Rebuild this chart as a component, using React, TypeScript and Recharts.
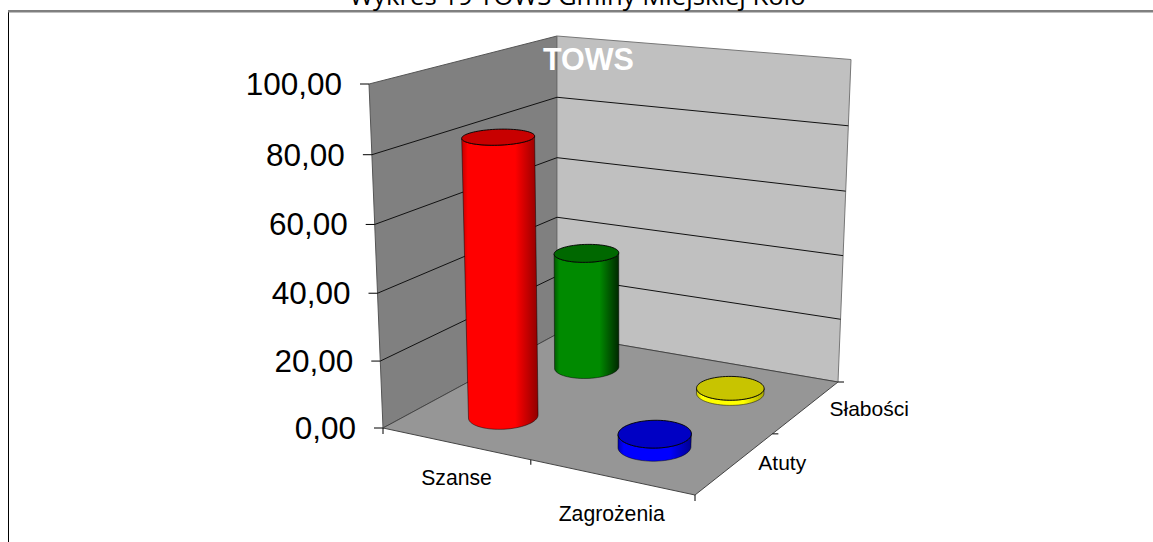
import React from 'react';
import { ComposedChart, Bar, XAxis, YAxis, Customized } from 'recharts';

// ---- data ----
const categories = ['Szanse', 'Zagrożenia'];
const seriesNames = ['Atuty', 'Słabości'];
const atuty = [83, 3.8];
const slabosci = [37, 1.6];
const yTicks = [0, 20, 40, 60, 80, 100];
const atutyColors = ['red', 'blue'];
const slabosciColors = ['green', 'yellow'];
const chartTitle = 'Wykres 19 TOWS Gminy Miejskiej Koło';
const innerTitle = 'TOWS';

const rows = categories.map((name, i) => ({ name, atuty: atuty[i], slabosci: slabosci[i] }));

// ---- layout: projection of the chart box ----
const W = 1153, H = 542;
const PLOT_TOP = 83, PLOT_BOTTOM = 428;
const PLOT_H = PLOT_BOTTOM - PLOT_TOP;
type Pt = [number, number];
const homography = (p00: Pt, p10: Pt, p11: Pt, p01: Pt) => {
  const dx1 = p10[0] - p11[0], dx2 = p01[0] - p11[0], sx = p00[0] - p10[0] + p11[0] - p01[0];
  const dy1 = p10[1] - p11[1], dy2 = p01[1] - p11[1], sy = p00[1] - p10[1] + p11[1] - p01[1];
  const den = dx1 * dy2 - dx2 * dy1;
  const g = (sx * dy2 - dx2 * sy) / den, h = (dx1 * sy - sx * dy1) / den;
  const a = p10[0] - p00[0] + g * p10[0], b = p01[0] - p00[0] + h * p01[0];
  const d = p10[1] - p00[1] + g * p10[1], e = p01[1] - p00[1] + h * p01[1];
  return (u: number, v: number): Pt => {
    const q = g * u + h * v + 1;
    return [(a * u + b * v + p00[0]) / q, (d * u + e * v + p00[1]) / q];
  };
};
const floor = homography([383, 428], [695, 495], [838, 382], [557, 334]);
const ceil = homography([369, 84], [714, 127], [851, 59.5], [557, 36]);
const ease = (w: number) => w / (w + (1 - w) * 1.035);
const project = (u: number, v: number, w: number): Pt => {
  const a = floor(u, v), b = ceil(u, v), f = ease(w);
  return [a[0] + (b[0] - a[0]) * f, a[1] + (b[1] - a[1]) * f];
};
const uPos = [0.255, 0.753];
const vPos = [0.25, 0.75];
const RU = 0.1, RV = 0.108;
const pathOf = (pts: Pt[], close = true) =>
  pts.map((p, i) => `${i ? 'L' : 'M'}${p[0].toFixed(2)},${p[1].toFixed(2)}`).join('') + (close ? 'Z' : '');
const ARIAL = '"Liberation Sans", Arial, sans-serif';

const shades: Record<string, { l: string; m: string; r: string; top: string }> = {
  red: { l: '#c00000', m: '#ff0000', r: '#900000', top: '#c80000' },
  green: { l: '#005800', m: '#008a00', r: '#002800', top: '#006800' },
  blue: { l: '#0000b0', m: '#0000ff', r: '#000090', top: '#0000c4' },
  yellow: { l: '#c8c800', m: '#ffff00', r: '#a8a800', top: '#c8c400' },
};

const makeCylinder = (seriesIdx: number, colors: string[]) => (props: any) => {
  const { index, height } = props;
  const w = Math.abs(height) / PLOT_H;
  const u = uPos[index], v = vPos[seriesIdx];
  const ring = (z: number): Pt[] => {
    const out: Pt[] = [];
    for (let i = 0; i < 72; i++) {
      const t = (i / 72) * Math.PI * 2;
      out.push(project(u + RU * Math.cos(t), v + RV * Math.sin(t), z));
    }
    return out;
  };
  const lower = (r: Pt[]) => {
    let li = 0, ri = 0;
    r.forEach((p, i) => { if (p[0] < r[li][0]) li = i; if (p[0] > r[ri][0]) ri = i; });
    const arcA: Pt[] = [], arcB: Pt[] = [];
    for (let i = li; ; i = (i + 1) % 72) { arcA.push(r[i]); if (i === ri) break; }
    for (let i = li; ; i = (i + 71) % 72) { arcB.push(r[i]); if (i === ri) break; }
    const avg = (a: Pt[]) => a.reduce((s, p) => s + p[1], 0) / a.length;
    return avg(arcA) > avg(arcB) ? arcA : arcB;
  };
  const bottom = lower(ring(0));
  const topRing = ring(w);
  const topLow = lower(topRing);
  const side = [...bottom, ...[...topLow].reverse()];
  const c = colors[index];
  return (
    <g>
      <path d={pathOf(side)} fill={`url(#cyl-${c})`} stroke="#000" strokeOpacity={0.6} strokeWidth={0.8} />
      <path d={pathOf(topRing)} fill={shades[c].top} stroke="#000" strokeWidth={0.9} />
    </g>
  );
};

const Backdrop = () => {
  const back0 = project(0, 1, 0), back1 = project(0, 1, 1);
  const wallL = [project(0, 0, 0), project(0, 0, 1), back1, back0];
  const wallR = [back0, back1, project(1, 1, 1), project(1, 1, 0)];
  const fl = [project(0, 0, 0), project(1, 0, 0), project(1, 1, 0), project(0, 1, 0)];
  const tick = (p: Pt, dx: number, dy: number, k: string) => (
    <line key={k} x1={p[0]} y1={p[1]} x2={p[0] + dx} y2={p[1] + dy} stroke="#000" strokeWidth={1} />
  );
  return (
    <g>
      <defs>
        {Object.keys(shades).map((k) => (
          <linearGradient key={k} id={`cyl-${k}`} x1="0" x2="1" y1="0" y2="0">
            <stop offset="0" stopColor={shades[k].l} />
            <stop offset="0.08" stopColor={shades[k].m} />
            <stop offset="0.7" stopColor={shades[k].m} />
            <stop offset="1" stopColor={shades[k].r} />
          </linearGradient>
        ))}
      </defs>
      <rect x={8.5} y={11} width={W} height={H} fill="#fff" stroke="#000" strokeWidth={1} />
      <line x1={8} y1={11.5} x2={W} y2={11.5} stroke="#808080" strokeWidth={2} />
      <text x={577.5} y={5} textAnchor="middle" fontFamily='"Open Sans", sans-serif' fontSize={25.7} fill="#000">
        {chartTitle}
      </text>
      <path d={pathOf(wallL)} fill="#808080" stroke="#555" strokeWidth={1} />
      <path d={pathOf(wallR)} fill="#c0c0c0" stroke="#777" strokeWidth={1} />
      <path d={pathOf(fl)} fill="#969696" stroke="#444" strokeWidth={1} />
      {yTicks.filter((t) => t > 0 && t < 100).map((t) => {
        const w = t / 100;
        return (
          <path key={t} d={pathOf([project(0, 0, w), project(0, 1, w), project(1, 1, w)], false)}
            fill="none" stroke="#111" strokeWidth={1} />
        );
      })}
      {tick(project(0, 0, 0), 0, 6, 'x0')}
      {tick(project(0.5, 0, 0), 0, 5, 'x1')}
      {tick(project(1, 0, 0), 0, 6, 'x2')}
      {tick(project(1, 0.5, 0), 6, 0, 'z1')}
      {tick(project(1, 1, 0), 6, 0, 'z2')}
      {seriesNames.map((s, i) => {
        const p = project(1, vPos[i], 0);
        return (
          <text key={s} x={p[0] + 23} y={p[1] + 7 + 2 * i} fontFamily={ARIAL} fontSize={21} fill="#000">{s}</text>
        );
      })}
      <text x={588.5} y={70} textAnchor="middle" fontFamily={ARIAL} fontWeight="bold" fontSize={30.5} fill="#fff">
        {innerTitle}
      </text>
    </g>
  );
};

const YTick = (props: any) => {
  const value = props.payload.value;
  const p = project(0, 0, value / 100);
  return (
    <g>
      <line x1={p[0] - 9} y1={p[1]} x2={p[0]} y2={p[1]} stroke="#000" strokeWidth={1} />
      <text x={p[0] - 27} y={p[1] + 11} textAnchor="end" fontFamily={ARIAL} fontSize={31.5} fill="#000">
        {value.toFixed(2).replace('.', ',')}
      </text>
    </g>
  );
};

const XTick = (props: any) => {
  const i = props.index;
  const p = project(uPos[i], 0, 0);
  return (
    <text x={p[0]} y={p[1] + 41 + 3 * i} textAnchor="middle" fontFamily={ARIAL} fontSize={21.2} fill="#000">
      {props.payload.value}
    </text>
  );
};

export default function App() {
  return (
    <div style={{ position: 'absolute', left: 0, top: 0, width: W, height: H, overflow: 'hidden' }}>
      <ComposedChart width={W} height={H} data={rows}
        margin={{ top: PLOT_TOP, bottom: H - PLOT_BOTTOM - 40, left: 0, right: 300 }}>
        <Customized component={Backdrop} />
        <XAxis dataKey="name" height={40} axisLine={false} tickLine={false} tick={XTick} interval={0} />
        <YAxis domain={[0, 100]} ticks={yTicks} width={370} axisLine={false} tickLine={false} tick={YTick} />
        <Bar dataKey="slabosci" isAnimationActive={false} shape={makeCylinder(1, slabosciColors)} />
        <Bar dataKey="atuty" isAnimationActive={false} shape={makeCylinder(0, atutyColors)} />
      </ComposedChart>
    </div>
  );
}
